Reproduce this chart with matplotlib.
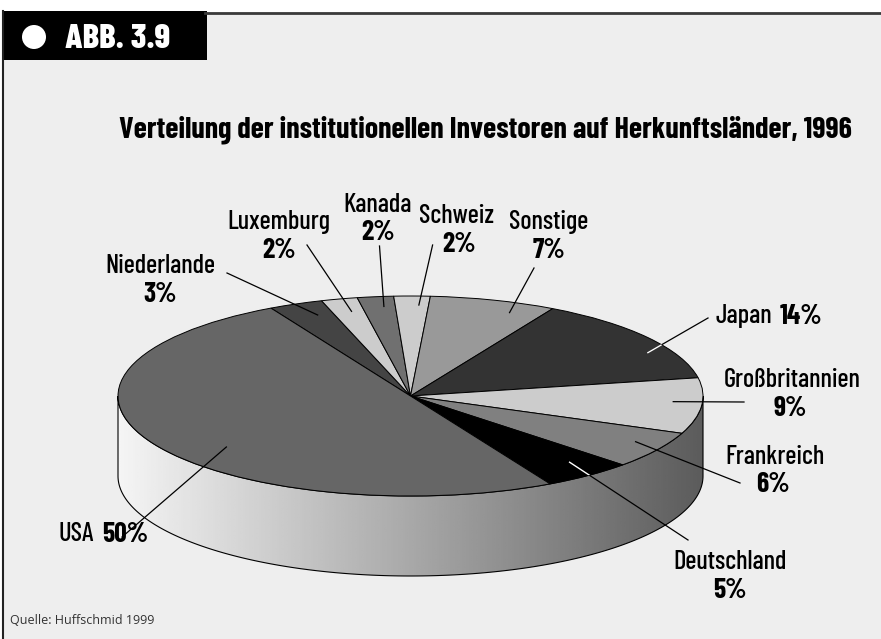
import numpy as np
import matplotlib
matplotlib.use("Agg")
import matplotlib.pyplot as plt
from matplotlib.patches import Rectangle, Circle, Polygon

# Daten: Anteile der Herkunftsländer (im Uhrzeigersinn ab Niederlande)
countries = ["Niederlande", "Luxemburg", "Kanada", "Schweiz", "Sonstige",
             "Japan", "Großbritannien", "Frankreich", "Deutschland", "USA"]
shares = [3, 2, 2, 2, 7, 14, 9, 6, 5, 50]
pct_labels = ["3%", "2%", "2%", "2%", "7%", "14%", "9%", "6%", "5%", "50%"]
colors = ["#444444", "#cccccc", "#707070", "#cccccc", "#999999",
          "#333333", "#cccccc", "#808080", "#000000", "#666666"]

title = "Verteilung der institutionellen Investoren auf Herkunftsländer, 1996"
source = "Quelle: Huffschmid 1999"

LAB = ["Barlow Condensed", "DejaVu Sans"]
START = 118.5
DEPTH = 0.8

fig = plt.figure(figsize=(8.81, 6.39), dpi=100, facecolor="white")

# Hintergrund in Pixelkoordinaten
bg = fig.add_axes([0, 0, 1, 1], zorder=0)
bg.set_xlim(0, 881)
bg.set_ylim(639, 0)
bg.axis("off")
bg.add_patch(Rectangle((3, 12), 878, 627, facecolor="#eeeeee", edgecolor="none"))
bg.plot([2.5, 2.5], [11, 639], color="#222222", lw=1.5)
bg.plot([205, 881], [12.5, 12.5], color="#3a3a3a", lw=2)
bg.add_patch(Rectangle((2, 11), 205, 49, facecolor="black", edgecolor="none"))
bg.add_patch(Circle((34, 37), 12, facecolor="white", edgecolor="none"))
bg.text(65, 48.5, "ABB. 3.9", color="white", fontsize=25, fontweight=800,
        family=LAB, ha="left", va="baseline")

bg.text(485.5, 137, title, fontsize=21.7, fontweight="bold", family=LAB,
        ha="center", va="baseline")
bg.text(10, 624, source, fontsize=9, family=["Open Sans", "DejaVu Sans"],
        color="#333333", ha="left", va="baseline")

# Torte (oben Ellipse, unten Seitenwand)
ax = fig.add_axes([118 / 881, 63 / 639, 585 / 881, 280 / 639], zorder=1)
wedges, _ = ax.pie(shares, colors=colors, startangle=START, counterclock=False,
                   radius=1, wedgeprops=dict(edgecolor="black", linewidth=0.7))
ax.set_aspect("auto")
ax.axis("off")
for w in wedges:
    w.set_clip_on(False)
    w.set_zorder(2)

t = np.linspace(np.pi, 2 * np.pi, 200)
side_xy = np.concatenate([np.c_[np.cos(t), np.sin(t)],
                          np.c_[np.cos(t[::-1]), np.sin(t[::-1]) - DEPTH]])
side = Polygon(side_xy, closed=True, facecolor="none", edgecolor="black",
               lw=0.8, zorder=1.5, clip_on=False)
ax.add_patch(side)
grad = np.linspace(0.96, 0.36, 256)[None, :]
img = ax.imshow(grad, cmap="gray", vmin=0, vmax=1, extent=(-1, 1, -1 - DEPTH, 0),
                aspect="auto", zorder=1, interpolation="bilinear")
img.set_clip_path(side)
ax.set_xlim(-1, 1)
ax.set_ylim(-1 - DEPTH, 1)

# Beschriftungen: Name, Prozent, äußeres Linienende, Winkelversatz, Radius
name_pos = [(160, 266), (279, 222), (378, 205), (457, 216), (549, 222),
            (715, 316), (792, 380), (775, 457), (730, 562), (58, 534)]
pct_pos = [(160, 295), (279, 250), (378, 233), (459, 245), (549, 250),
           (822, 316), (790, 408), (773, 485), (730, 590), (148, 534)]
line_out = [(227, 273), (307, 245), (379.5, 246), (432.6, 245), (534, 268),
            (708, 318), (744, 402), (740, 483), (688, 540), (122, 537)]
ang_off = [-1.7, -0.7, -1.1, -1.5, -5.6, -7.6, 2.1, 2.0, 1.9, 10.5]
rad = [0.87, 0.87, 0.90, 0.91, 0.90, 0.92, 0.90, 0.895, 0.857, 0.81]
inline = ["Japan", "USA"]

to_pie = ax.transData.inverted()
cum = 0.0
for i, name in enumerate(countries):
    mid = START - 3.6 * (cum + shares[i] / 2)
    cum += shares[i]
    a = np.radians(mid + ang_off[i])
    x0, y0 = rad[i] * np.cos(a), rad[i] * np.sin(a)
    x1, y1 = to_pie.transform(bg.transData.transform(line_out[i]))
    ax.plot([x0, x1], [y0, y1], color="black", lw=0.9, zorder=3, clip_on=False)
    if colors[i] in ("#333333", "#000000"):
        # innerhalb dunkler Segmente ist die Linie weiß
        ln, = ax.plot([x0, x1], [y0, y1], color="white", lw=1.0, zorder=3.1)
        ln.set_clip_path(wedges[i])

    ha_name, ha_pct = ("left", "right") if name in inline else ("center", "center")
    bg.text(*name_pos[i], name, fontsize=19, fontweight=500, family=LAB,
            ha=ha_name, va="center")
    bg.text(*pct_pos[i], pct_labels[i], fontsize=20, fontweight="bold",
            family=LAB, ha=ha_pct, va="center")

fig.savefig("out.png", dpi=100, facecolor=fig.get_facecolor())
